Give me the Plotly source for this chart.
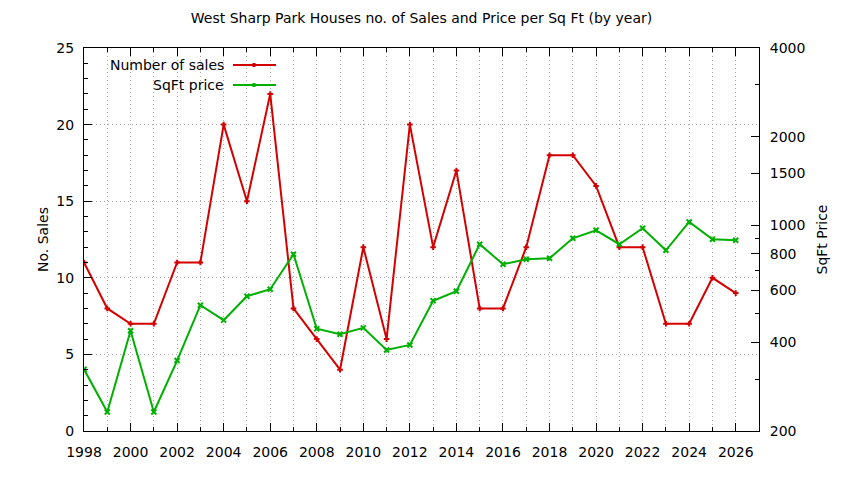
import math
import plotly.graph_objects as go

years = list(range(1998, 2027))
sales = [11, 8, 7, 7, 11, 11, 20, 15, 22, 8, 6, 4, 12, 6, 20, 12, 17, 8, 8, 12,
         18, 18, 16, 12, 12, 7, 7, 10, 9]
price = [324, 232, 438, 232, 347, 535, 476, 574, 606, 797, 445, 426, 448, 377,
         392, 554, 597, 862, 737, 766, 772, 903, 961, 862, 977, 822, 1026, 896, 889]

x_ticks = list(range(1998, 2027, 2))
sales_ticks = [0, 5, 10, 15, 20, 25]
price_ticks = [200, 400, 600, 800, 1000, 1500, 2000, 4000]
price_minor_ticks = [300, 500, 700, 900, 3000]

RED = "#d40000"
GREEN = "#00b000"
FONT = "DejaVu Sans"
FS = 14

fig = go.Figure()
fig.add_trace(go.Scatter(
    x=years, y=sales, mode="lines+markers", name="Number of sales",
    line=dict(color=RED, width=2), marker=dict(symbol="cross-thin", size=4,
                                              line=dict(color=RED, width=2)),
    yaxis="y", showlegend=False))
fig.add_trace(go.Scatter(
    x=years, y=price, mode="lines+markers", name="SqFt price",
    line=dict(color=GREEN, width=2), marker=dict(symbol="x-thin", size=5,
                                                line=dict(color=GREEN, width=2)),
    yaxis="y2", showlegend=False))

# page body has an 8px margin; target plot area in window pixels: x 84..759, y 48..431
OFF = 8
W, H = 844 - 2 * OFF, 480 - 2 * OFF
L, R, T, B = 84 - OFF, 844 - 759 - OFF, 48 - OFF, 480 - 431 - OFF
pw, ph = W - L - R, H - T - B

def px(xp):
    return (xp - OFF - L) / pw

def py(yp):
    return (H - B - (yp - OFF)) / ph

shapes = []
annotations = []
# legend background (hides grid)
shapes.append(dict(type="rect", xref="paper", yref="paper", layer="between",
                   x0=px(99), x1=px(285), y0=py(96), y1=py(49),
                   fillcolor="white", line=dict(width=0)))
legend_items = [("Number of sales", RED, 65), ("SqFt price", GREEN, 85)]
for label, col, ypix in legend_items:
    annotations.append(dict(text=label, xref="paper", yref="paper", x=px(226), y=py(ypix),
                            xanchor="right", yanchor="middle", showarrow=False,
                            font=dict(family=FONT, size=FS, color="black")))
    shapes.append(dict(type="line", xref="paper", yref="paper", layer="above",
                       x0=px(233), x1=px(276), y0=py(ypix), y1=py(ypix),
                       line=dict(color=col, width=2)))
    shapes.append(dict(type="rect", xref="paper", yref="paper", layer="above",
                       x0=px(252.5), x1=px(255.5), y0=py(ypix + 2), y1=py(ypix - 2),
                       fillcolor=col, line=dict(width=0)))

grid = dict(gridcolor="#a8a8a8", griddash="1px,3px", gridwidth=1)

fig.update_layout(
    width=W, height=H,
    margin=dict(l=L, r=R, t=T, b=B, autoexpand=False),
    paper_bgcolor="white", plot_bgcolor="white",
    font=dict(family=FONT, size=FS, color="black"),
    title=dict(text="West Sharp Park Houses no. of Sales and Price per Sq Ft (by year)",
               x=0.5, xref="paper", y=1 - (18 - OFF) / H, yanchor="middle", xanchor="center",
               font=dict(family=FONT, size=FS, color="black")),
    xaxis=dict(range=[1998, 2027], tickvals=x_ticks, ticks="inside", ticklen=8,
               tickcolor="black", showline=True, linecolor="black", linewidth=1,
               mirror="ticks", showgrid=True, zeroline=False,
               minor=dict(dtick=1, tick0=1998, ticks="inside", ticklen=4, tickcolor="black",
                          showgrid=True, **grid),
               ticklabelstandoff=8, **grid),
    yaxis=dict(range=[0, 25], tickvals=sales_ticks, ticks="inside", ticklen=8,
               tickcolor="black", showline=True, linecolor="black", linewidth=1,
               showgrid=True, zeroline=False,
               minor=dict(dtick=1, tick0=0, ticks="inside", ticklen=4, tickcolor="black",
                          showgrid=False),
               title=dict(text="No. Sales", standoff=4, font=dict(family=FONT, size=FS)),
               ticklabelstandoff=6, **grid),
    yaxis2=dict(overlaying="y", side="right", type="log",
                range=[math.log10(200), math.log10(4000)],
                tickvals=price_ticks, ticktext=[str(v) for v in price_ticks],
                ticks="inside", ticklen=8, tickcolor="black",
                showline=True, linecolor="black", linewidth=1, showgrid=False,
                zeroline=False,
                minor=dict(tickvals=price_minor_ticks, ticks="inside", ticklen=4,
                           tickcolor="black", showgrid=False),
                title=dict(text="SqFt Price", standoff=12, font=dict(family=FONT, size=FS)),
                ticklabelstandoff=7),
    shapes=shapes, annotations=annotations, showlegend=False,
)

fig.write_html("out.html")
